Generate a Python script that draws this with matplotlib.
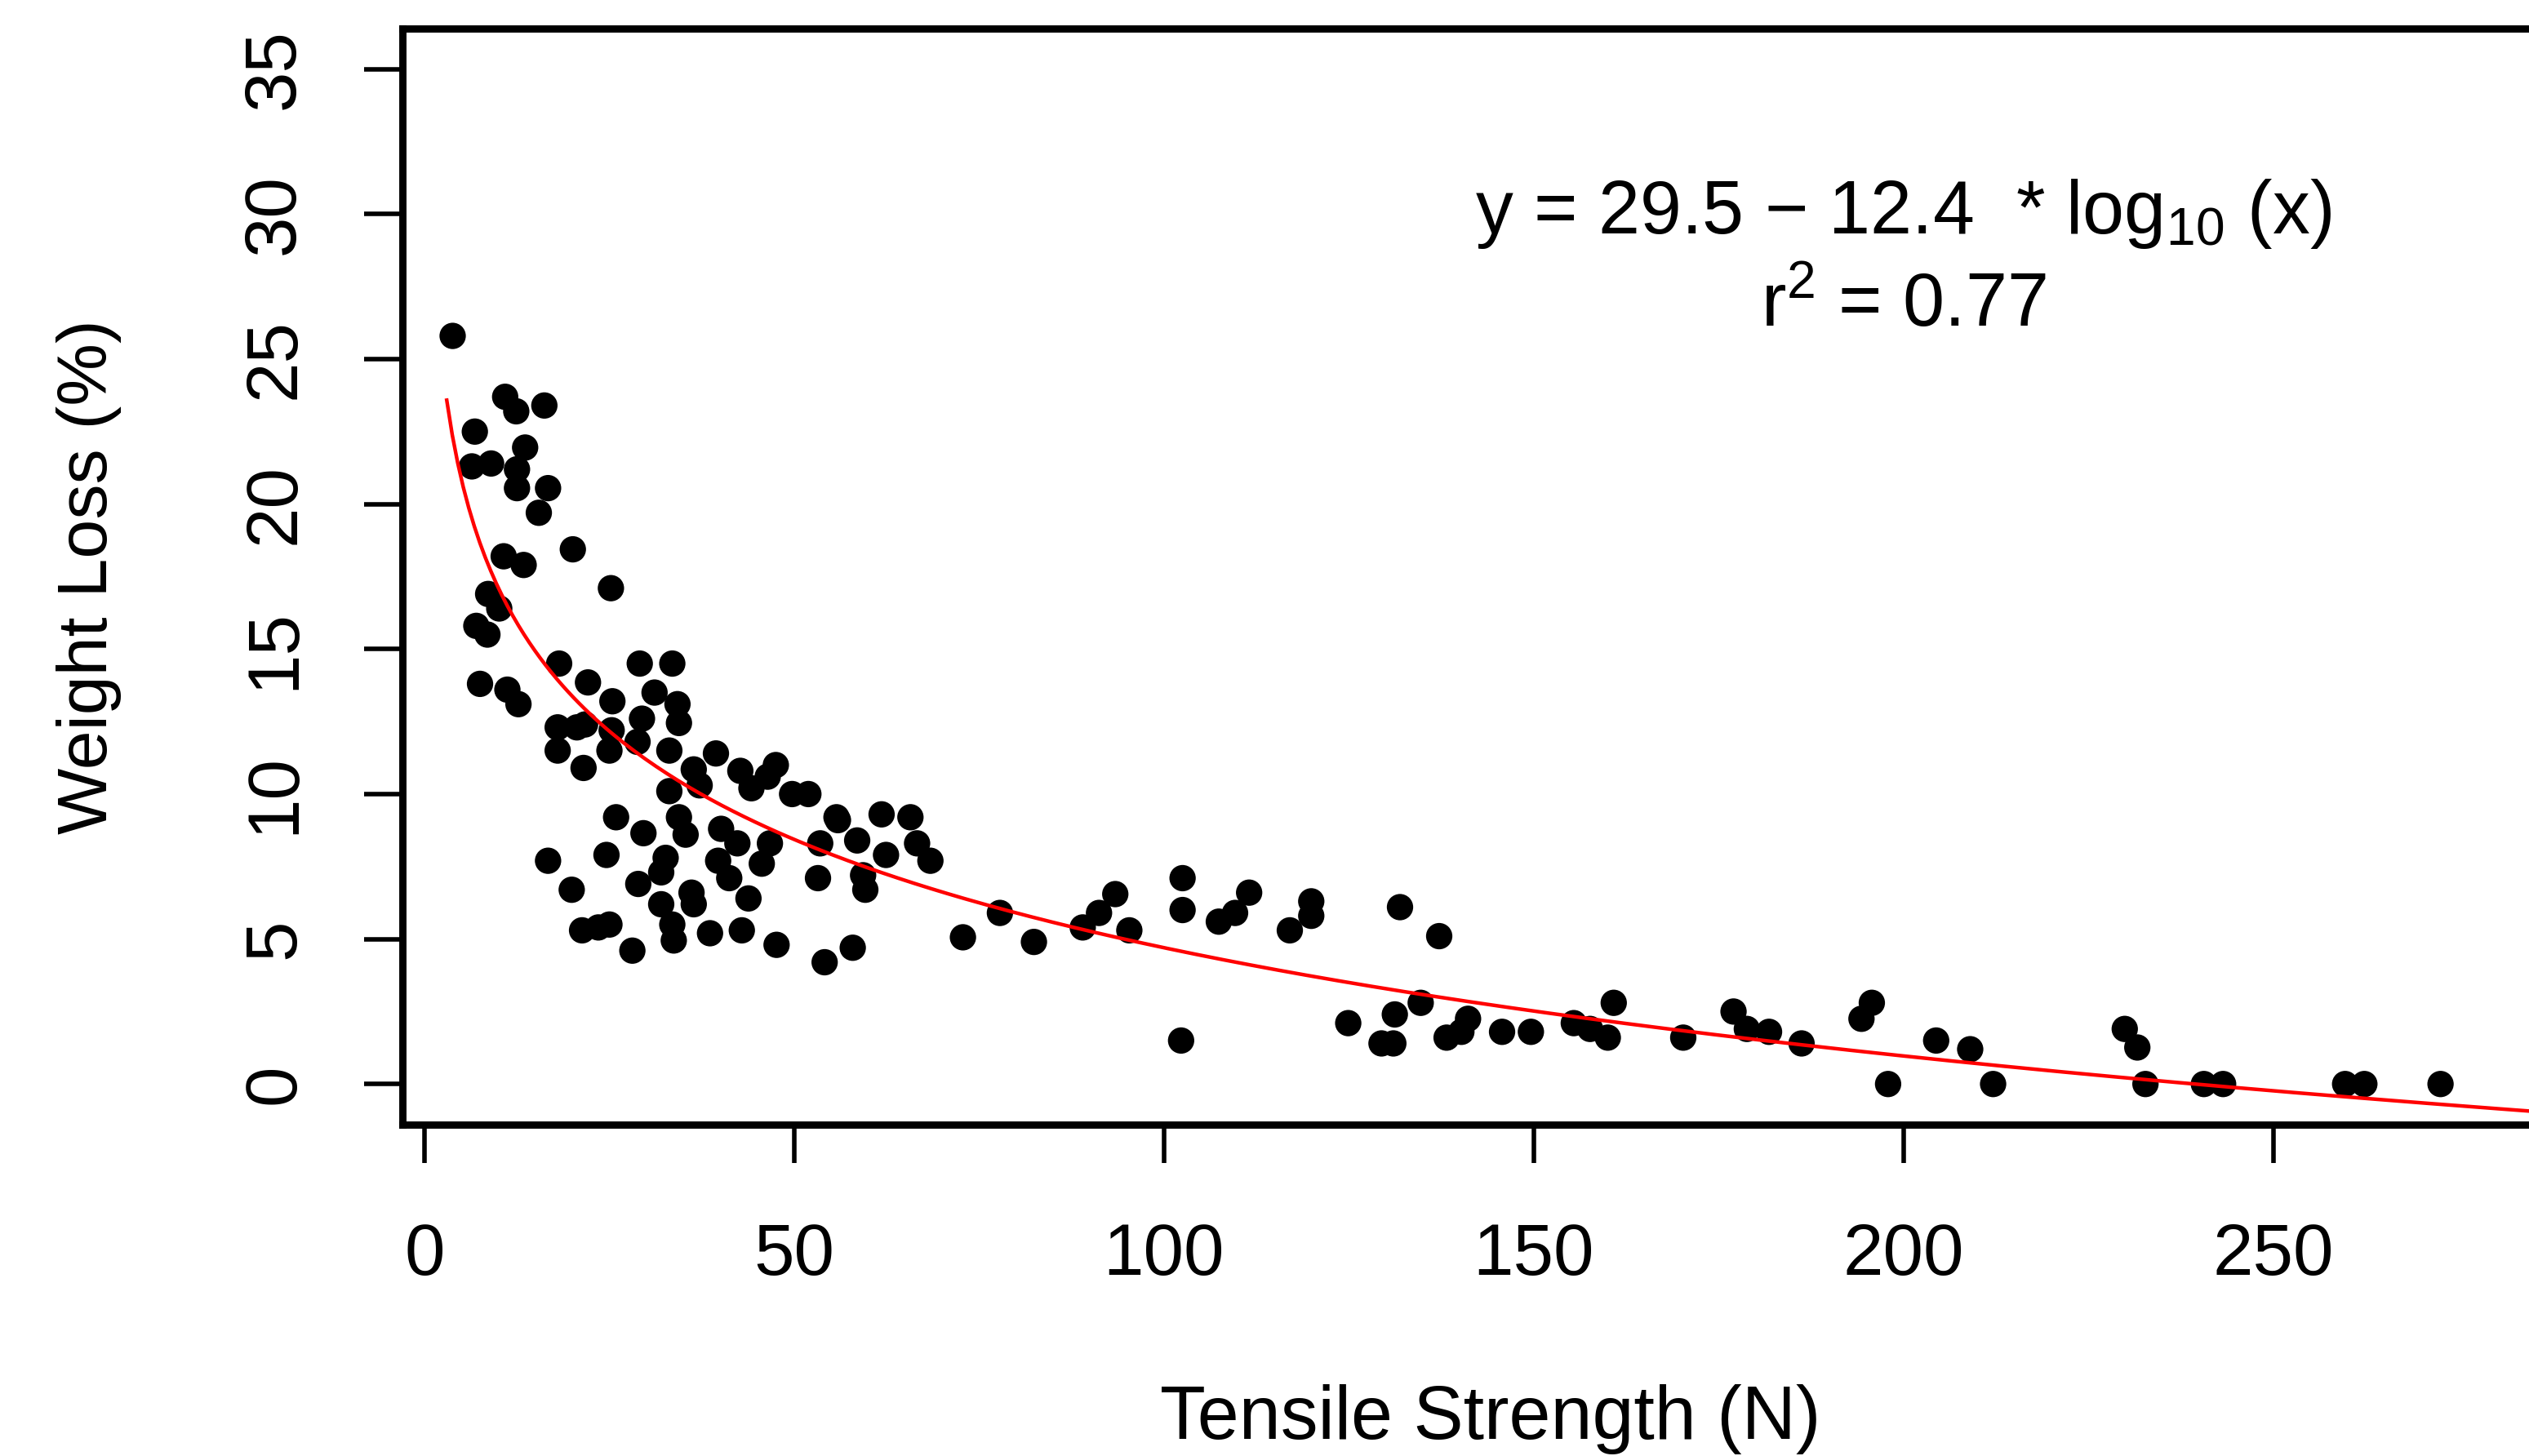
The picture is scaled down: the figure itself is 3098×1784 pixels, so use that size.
import matplotlib
matplotlib.use("Agg")
import matplotlib.pyplot as plt
import numpy as np

plt.rcParams['font.family'] = ['Liberation Sans', 'DejaVu Sans']
plt.rcParams['mathtext.default'] = 'regular'

# tensile strength (N) and weight loss (%)
tensile = [3.8, 10.9, 12.4, 16.2, 6.8, 13.6, 6.4, 9.0, 12.5, 12.5, 16.7, 15.45,
           20.05, 10.7, 13.4, 25.2, 8.6, 10.1, 7.0, 8.5, 18.2, 29.1, 33.5, 7.5,
           11.2, 12.7, 22.1, 25.4, 31.1, 34.2, 21.7, 29.4, 34.4, 18.0, 20.6, 18.0,
           25.3, 25.0, 28.8, 33.1, 21.5,
           39.4, 36.4, 42.7, 44.2, 47.5, 37.2, 33.1, 46.4,
           49.7, 51.9, 55.9, 25.9, 29.6, 34.4, 35.3, 40.1, 42.3, 46.7, 45.6, 53.5,
           53.2, 16.7, 24.6, 32.6, 32.0, 39.7, 19.9, 28.9, 36.1, 41.2, 43.8, 32.0,
           33.5, 33.7, 36.4, 21.3, 23.5, 25.0, 28.1, 38.6, 42.9, 47.6, 54.1, 57.9,
           55.7, 58.5, 61.8, 65.7, 62.4, 66.6, 68.4, 59.3, 59.6,
           77.8, 72.8, 82.4, 93.4, 91.2, 89.0, 95.3, 102.5, 102.5, 107.4, 109.6,
           102.3,
           111.5, 119.9, 119.9, 117.0, 131.9, 137.2, 124.9, 131.2, 129.4, 131.0,
           134.7, 141.1, 138.2, 140.2, 145.7, 149.6, 155.4, 157.6, 160.0, 160.8,
           170.2, 177.0, 178.8, 181.8, 186.2, 195.7, 194.3, 197.9, 204.4, 209.0,
           212.1,
           229.9, 231.6, 232.7, 240.6, 243.2, 259.7, 262.3, 272.6]
weight_loss = [25.8, 23.7, 23.2, 23.4, 22.5, 21.95, 21.3, 21.4, 21.2, 20.55, 20.55, 19.7,
               18.44, 18.2, 17.9, 17.1, 16.9, 16.4, 15.8, 15.5, 14.5, 14.5, 14.5, 13.8,
               13.6, 13.1, 13.85, 13.2, 13.5, 13.1, 12.4, 12.6, 12.45, 12.3, 12.3, 11.5,
               12.2, 11.5, 11.8, 11.5, 10.9,
               11.4, 10.85, 10.8, 10.2, 11.0, 10.3, 10.1, 10.6,
               10.0, 10.0, 9.1, 9.2, 8.65, 9.2, 8.6, 8.8, 8.3, 8.3, 7.6, 8.3,
               7.1, 7.7, 7.9, 7.8, 7.3, 7.7, 6.7, 6.9, 6.6, 7.1, 6.4, 6.2,
               5.5, 4.95, 6.2, 5.3, 5.4, 5.5, 4.6, 5.2, 5.3, 4.8, 4.2, 4.7,
               9.2, 8.4, 9.3, 9.2, 7.9, 8.3, 7.7, 7.2, 6.7,
               5.9, 5.06, 4.9, 6.55, 5.9, 5.4, 5.3, 7.1, 6.0, 5.6, 5.9,
               1.5,
               6.6, 6.3, 5.8, 5.3, 6.1, 5.1, 2.1, 2.4, 1.4, 1.4,
               2.8, 2.25, 1.6, 1.8, 1.8, 1.8, 2.1, 1.9, 1.6, 2.8,
               1.6, 2.5, 1.9, 1.8, 1.4, 2.8, 2.25, 0.0, 1.5, 1.2,
               0.0,
               1.9, 1.26, 0.0, 0.0, 0.0, 0.0, 0.0, 0.0]

# log fit shown on the chart: y = 29.5 - 12.4 * log10(x)
fit_a = 29.5
fit_b = 12.4
fit_x = np.linspace(3.0, 300, 400)
fit_y = fit_a - fit_b * np.log10(fit_x)

x_ticks = [0, 50, 100, 150, 200, 250]
y_ticks = [0, 5, 10, 15, 20, 25, 30, 35]

fig = plt.figure(figsize=(15.49, 8.92), dpi=200)
ax = fig.add_axes([0.1591, 0.2276, 0.8606, 0.7528])

ax.scatter(tensile, weight_loss, s=135, c='black', edgecolors='none', zorder=2)
ax.plot(fit_x, fit_y, color='#ff0000', lw=1.6, zorder=3)

ax.set_xlim(-3.0, 291.3)
ax.set_ylim(-1.4, 36.4)
ax.set_xticks(x_ticks)
ax.set_yticks(y_ticks)
ax.set_yticklabels([str(v) for v in y_ticks], rotation=90, va='center')

for sp in ax.spines.values():
    sp.set_linewidth(3.2)
    sp.set_color('black')
ax.tick_params(axis='both', length=17, width=2.0, direction='out',
               labelsize=32, color='black')
ax.tick_params(axis='x', pad=26)
ax.tick_params(axis='y', pad=24)

ax.set_xlabel('Tensile Strength (N)', fontsize=33)
ax.set_ylabel('Weight Loss (%)', fontsize=31)
ax.xaxis.set_label_coords(0.5, -0.2688)
ax.xaxis.label.set_va('center')
ax.yaxis.set_label_coords(-0.144, 0.5)
ax.yaxis.label.set_va('center')

ax.text(200, 30.0, 'y = 29.5 \u2212 12.4  * log$_{10}$ (x)', fontsize=33,
        ha='center', va='center')
ax.text(200, 26.8, 'r$^{2}$ = 0.77', fontsize=33, ha='center', va='center')

fig.savefig('out.png', dpi=200)
